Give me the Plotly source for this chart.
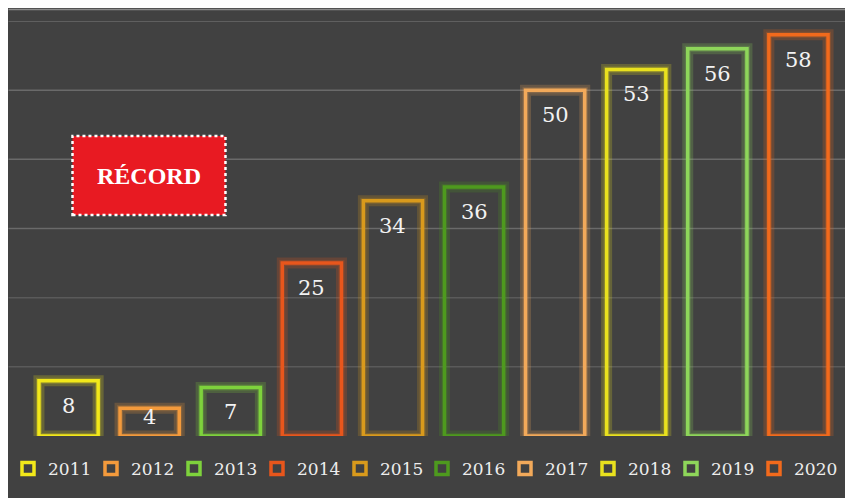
import plotly.graph_objects as go

years = ["2011", "2012", "2013", "2014", "2015", "2016", "2017", "2018", "2019", "2020"]
values = [8, 4, 7, 25, 34, 36, 50, 53, 56, 58]
colors = ["#F2E81A", "#F39A3C", "#7ED23C", "#E8561C", "#D99A1C",
          "#4E9A1E", "#F2A95A", "#E9E11E", "#8ED65A", "#F26A1C"]
glows = ["rgba(242,232,26,0.22)", "rgba(243,154,60,0.22)", "rgba(126,210,60,0.22)",
         "rgba(232,86,28,0.22)", "rgba(217,154,28,0.22)", "rgba(78,154,30,0.22)",
         "rgba(242,169,90,0.22)", "rgba(233,225,30,0.22)", "rgba(142,214,90,0.22)",
         "rgba(242,106,28,0.22)"]
grid_values = [10, 20, 30, 40, 50, 60]

BG = "#414141"
W, H = 853, 498
ML, MR, MT, MB = 19.5, 22.4, 13, 70
PW, PH = W - ML - MR, H - MT - MB

fig = go.Figure()

# glow layers
for yr, v, g in zip(years, values, glows):
    fig.add_trace(go.Bar(x=[yr], y=[v], marker=dict(color="rgba(0,0,0,0)", line=dict(color=g, width=11)),
                         showlegend=False, hoverinfo="skip"))
    fig.add_trace(go.Bar(x=[yr], y=[v], marker=dict(color="rgba(0,0,0,0)", line=dict(color=g, width=6)),
                         showlegend=False, hoverinfo="skip"))
# main outlined bars (first five in legend, rest in legend2)
for i, (yr, v, c) in enumerate(zip(years, values, colors)):
    fig.add_trace(go.Bar(x=[yr], y=[v], name=yr, legend="legend" if i < 5 else "legend2",
                         marker=dict(color="rgba(0,0,0,0)", line=dict(color=c, width=3.5))))

# value labels (x given as category index)
for i, v in enumerate(values):
    fig.add_annotation(x=i, y=max(v - 3.6, 2.75), text=str(v), showarrow=False,
                       xanchor="center", yanchor="middle",
                       font=dict(family="DejaVu Serif", size=21, color="#F2F2F2"))

shapes = []
# top edge line
shapes.append(dict(type="line", xref="paper", yref="paper", x0=-ML / PW, x1=(W - ML) / PW,
                   y0=(PH + MT - 1.5) / PH, y1=(PH + MT - 1.5) / PH,
                   line=dict(color="#8a8a8a", width=1.5), layer="below"))
# gridlines
for gv in grid_values:
    shapes.append(dict(type="line", xref="paper", yref="y", x0=-ML / PW, x1=(W - ML) / PW, y0=gv, y1=gv,
                       line=dict(color="#6a6a6a" if gv >= 30 else "#5a5a5a", width=1.5), layer="below"))
# RÉCORD badge
bx0, bx1, by0, by1 = 64, 217, 128, 207
shapes.append(dict(type="rect", xref="paper", yref="paper",
                   x0=(bx0 - ML) / PW, x1=(bx1 - ML) / PW,
                   y0=(MT + PH - by1) / PH, y1=(MT + PH - by0) / PH,
                   fillcolor="#E81A22", line=dict(color="#FFFFFF", width=2.5, dash="dot"), layer="above"))
fig.add_annotation(xref="paper", yref="paper", x=((bx0 + bx1) / 2 - ML) / PW, y=(MT + PH - 168) / PH,
                   xanchor="center", yanchor="middle",
                   text="<b>RÉCORD</b>", showarrow=False,
                   font=dict(family="Liberation Serif", size=24, color="#FFFFFF"))

legend_style = dict(orientation="h", xref="container", yref="paper", xanchor="left",
                    y=-(461 - (MT + PH)) / PH, yanchor="middle",
                    font=dict(family="DejaVu Serif", size=17, color="#EDEDED"),
                    bgcolor="rgba(0,0,0,0)", entrywidth=38, entrywidthmode="pixels",
                    itemwidth=30)

fig.update_layout(
    width=W, height=H,
    margin=dict(l=ML, r=MR, t=MT, b=MB, autoexpand=False),
    paper_bgcolor=BG, plot_bgcolor=BG,
    barmode="overlay", bargap=0.27,
    shapes=shapes,
    xaxis=dict(type="category", visible=False, range=[-0.5, 9.5]),
    yaxis=dict(range=[0, 60], visible=False, showgrid=False),
    showlegend=True,
    legend=dict(legend_style, x=-7 / W),
    legend2=dict(legend_style, x=414 / W),
)

fig.write_html("out.html")
